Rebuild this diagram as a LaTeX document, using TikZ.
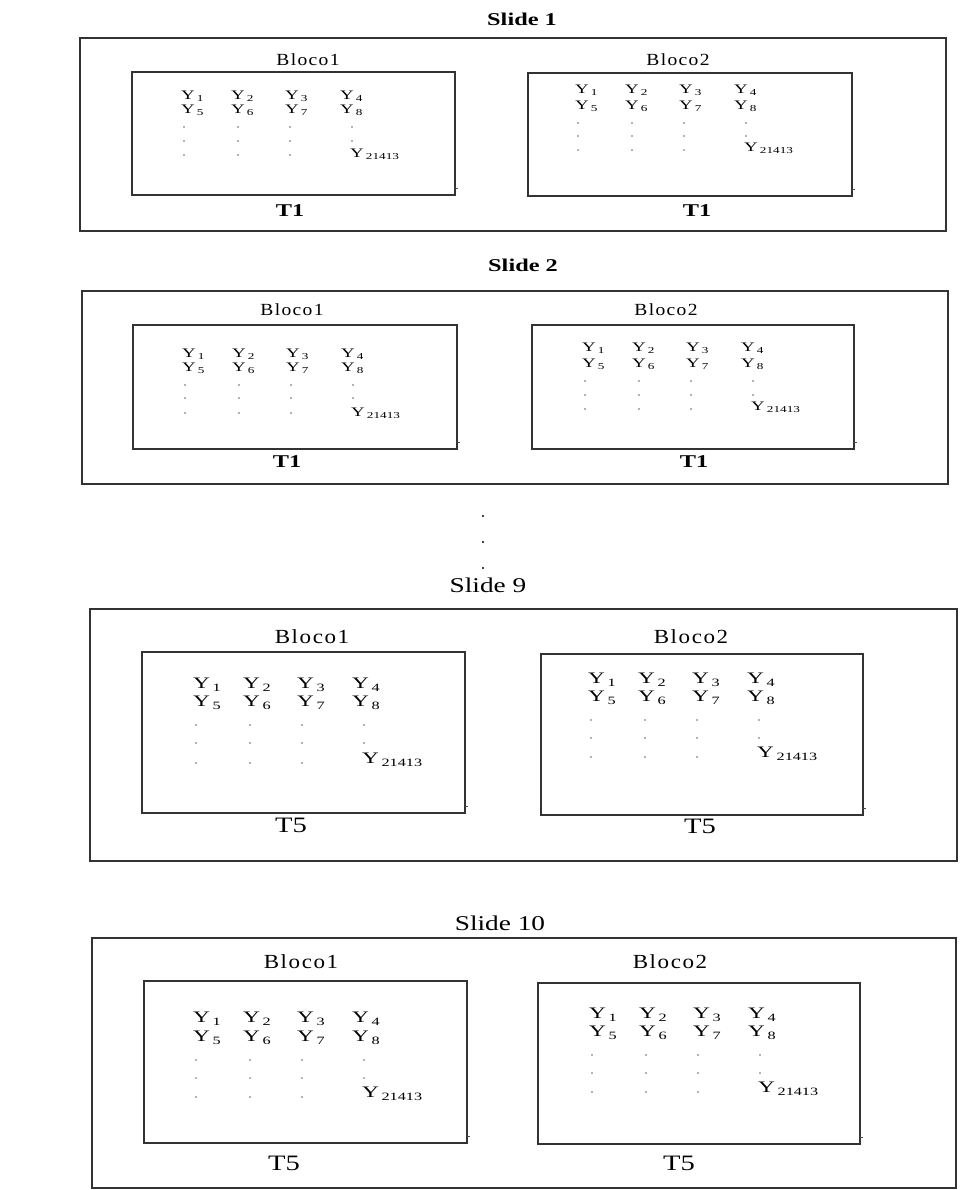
\documentclass[tikz,border=0pt]{standalone}
\usepackage{fontspec}
\setmainfont{Liberation Serif}[FakeStretch=1.3]
\newfontfamily\wfont{Liberation Serif}[FakeStretch=1.35]
\newfontfamily\lsfont{Liberation Serif}[FakeStretch=1.15,LetterSpace=8]
\newfontfamily\yfont{Liberation Serif}[FakeStretch=1.45]
\newcommand\ysb[1]{\,\textsubscript{#1}}
% #1 prefix, #2 x, #3 y, #4 row-2 offset, #5-#7 dot-row offsets, #8 text style, #9 last-label offset
\newcommand\ygrid[9]{%
  \node[#8] (#1y1) at (#2,#3) {Y\ysb{1}};
  \node[#8] (#1y2) at ({#2+50},#3) {Y\ysb{2}};
  \node[#8] (#1y3) at ({#2+104},#3) {Y\ysb{3}};
  \node[#8] (#1y4) at ({#2+159},#3) {Y\ysb{4}};
  \node[#8] (#1y5) at (#2,{#3+#4}) {Y\ysb{5}};
  \node[#8] (#1y6) at ({#2+50},{#3+#4}) {Y\ysb{6}};
  \node[#8] (#1y7) at ({#2+104},{#3+#4}) {Y\ysb{7}};
  \node[#8] (#1y8) at ({#2+159},{#3+#4}) {Y\ysb{8}};
  \foreach \dx in {3,57,109} {\foreach \dy in {#5,#6,#7} {\fill[gdot] ({#2+\dx},{#3+\dy}) circle (0.8);}}
  \foreach \dy in {#5,#6} {\fill[gdot] ({#2+171},{#3+\dy}) circle (0.8);}
  \node[#8] (#1yn) at ({#2+169},{#3+#9}) {Y\ysb{21413}};
}
% frame: x1 y1 x2 y2
\newcommand\frm[4]{%
  \draw[hline] (#1,#2) -- (#3,#2) (#1,#4) -- (#3,#4);
  \draw[vline] (#1,#2) -- (#1,#4) (#3,#2) -- (#3,#4);
}
\newcommand\ifrm[4]{%
  \frm{#1}{#2}{#3}{#4}
  \draw[tick] (#3,{#4-7}) -- ({#3+3},{#4-7});
}
\begin{document}
\begin{tikzpicture}[x=1pt,y=-1pt,
  hline/.style={line width=1.1pt,draw=black!80,line cap=rect},
  vline/.style={line width=1.8pt,draw=black!80,line cap=rect},
  tick/.style={line width=0.9pt,draw=black!70},
  gdot/.style={fill=black!60},
  edot/.style={fill=black},
  ttlA/.style={font=\wfont\bfseries\fontsize{18}{18}\selectfont,inner sep=0pt},
  ttlB/.style={font=\fontsize{21}{21}\selectfont,inner sep=0pt},
  blkA/.style={font=\lsfont\fontsize{17}{17}\selectfont,inner sep=0pt},
  blkB/.style={font=\lsfont\fontsize{20}{20}\selectfont,inner sep=0pt},
  tA/.style={font=\wfont\bfseries\fontsize{18}{18}\selectfont,inner sep=0pt},
  tB/.style={font=\fontsize{22}{22}\selectfont,inner sep=0pt},
  yA/.style={font=\yfont\fontsize{13}{13}\selectfont,inner sep=0pt,anchor=west},
  yB/.style={font=\yfont\fontsize{16}{16}\selectfont,inner sep=0pt,anchor=west}]
\useasboundingbox (0,0) rectangle (974,1190);
\fill[white] (0,0) rectangle (974,1190);

% ---------- Slide 1 ----------
\node[ttlA] (s1t) at (522,19) {Slide 1};
\frm{80}{38}{946}{231}
\node[blkA] (s1b1) at (308,60) {Bloco1};
\ifrm{132}{72}{455}{195}
\ygrid{s1a}{181}{96}{14}{31}{45}{59}{yA}{58}
\node[tA] (s1T1) at (290,211) {T1};
\node[blkA] (s1b2) at (678,60) {Bloco2};
\ifrm{528}{73}{852}{196}
\ygrid{s1b}{575}{90}{16}{33}{46}{60}{yA}{58}
\node[tA] (s1T2) at (697,211) {T1};

% ---------- Slide 2 ----------
\node[ttlA] (s2t) at (523,265) {Slide 2};
\frm{82}{291}{948}{484}
\node[blkA] (s2b1) at (292,310) {Bloco1};
\ifrm{133}{325}{457}{449}
\ygrid{s2a}{182}{354}{14}{31}{44}{59}{yA}{59}
\node[tA] (s2T1) at (287,462) {T1};
\node[blkA] (s2b2) at (666,310) {Bloco2};
\ifrm{532}{325}{854}{449}
\ygrid{s2b}{582}{348}{16}{33}{47}{61}{yA}{59}
\node[tA] (s2T2) at (694,462) {T1};

% ---------- ellipsis ----------
\fill[edot] (483,516) circle (1.2);
\fill[edot] (483,542) circle (1.2);
\fill[edot] (483,568) circle (1.2);

% ---------- Slide 9 ----------
\node[ttlB] (s9t) at (488,585) {Slide 9};
\frm{90}{609}{957}{861}
\node[blkB] (s9b1) at (312,637) {Bloco1};
\ifrm{142}{652}{465}{813}
\ygrid{s9a}{193}{685}{18}{40}{58}{78}{yB}{75}
\node[tB] (s9T1) at (291,825) {T5};
\node[blkB] (s9b2) at (691,637) {Bloco2};
\ifrm{541}{654}{863}{815}
\ygrid{s9b}{588}{680}{18}{40}{58}{77}{yB}{74}
\node[tB] (s9T2) at (700,826) {T5};

% ---------- Slide 10 ----------
\node[ttlB] (s10t) at (500,923) {Slide 10};
\frm{92}{938}{956}{1188}
\node[blkB] (s10b1) at (301,962) {Bloco1};
\ifrm{144}{981}{467}{1143}
\ygrid{s10a}{193}{1019}{19}{41}{59}{78}{yB}{75}
\node[tB] (s10T1) at (284,1163) {T5};
\node[blkB] (s10b2) at (670,962) {Bloco2};
\ifrm{538}{983}{860}{1144}
\ygrid{s10b}{589}{1015}{18}{40}{58}{77}{yB}{74}
\node[tB] (s10T2) at (679,1163) {T5};
\end{tikzpicture}
\end{document}
